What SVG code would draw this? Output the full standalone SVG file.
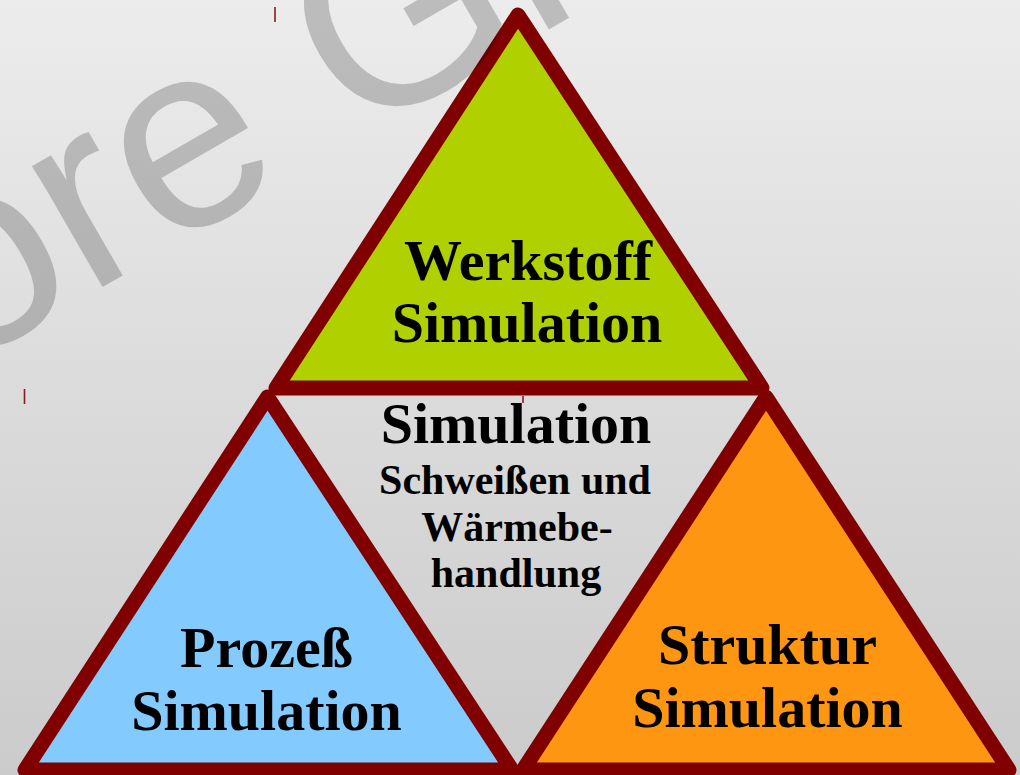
<svg xmlns="http://www.w3.org/2000/svg" width="1020" height="775" viewBox="0 0 1020 775">
<defs>
<linearGradient id="bg" x1="0" y1="0" x2="0" y2="1">
<stop offset="0" stop-color="#ECECEC"/>
<stop offset="1" stop-color="#CBCBCB"/>
</linearGradient>
</defs>
<style>
.tri{stroke:#800000;stroke-width:15;stroke-linejoin:round}
.big{font-family:"Liberation Serif","Times New Roman",serif;font-weight:bold;font-size:58px;fill:#000;text-anchor:middle}
.small{font-family:"Liberation Serif","Times New Roman",serif;font-weight:bold;font-size:42px;fill:#000;text-anchor:middle}
.tick{stroke:#8B1A20;stroke-width:1.6}
.wm{font-family:"Liberation Sans",Arial,sans-serif;font-size:265px;fill:#000;fill-opacity:0.2}
</style>
<rect x="0" y="0" width="1020" height="775" fill="url(#bg)"/>
<g id="werkstoff">
<polygon class="tri" points="518,15 276,388 762,388" fill="#B0D000"/>
<text class="big" x="528" y="280">Werkstoff</text>
<text class="big" x="527" y="342">Simulation</text>
</g>
<g id="prozess">
<polygon class="tri" points="267.5,397 25,770 512,770" fill="#83CAFF"/>
<text class="big" x="266.5" y="667">Prozeß</text>
<text class="big" x="266.5" y="730">Simulation</text>
</g>
<g id="struktur">
<polygon class="tri" points="766,397 523,770 1009,770" fill="#FF9612"/>
<text class="big" x="767.5" y="664">Struktur</text>
<text class="big" x="767.5" y="727">Simulation</text>
</g>
<g id="center">
<text class="big" x="516" y="443">Simulation</text>
<text class="small" x="515" y="494">Schweißen und</text>
<text class="small" x="517" y="541">Wärmebe-</text>
<text class="small" x="516" y="587">handlung</text>
</g>
<g id="ticks">
<line class="tick" x1="275" y1="7" x2="275" y2="22"/>
<line class="tick" x1="24.5" y1="389" x2="24.5" y2="404"/>
<line class="tick" x1="523" y1="396" x2="523" y2="403"/>
</g>
<text class="wm" transform="translate(-41,370) rotate(-30)">ore Gr</text>
</svg>
